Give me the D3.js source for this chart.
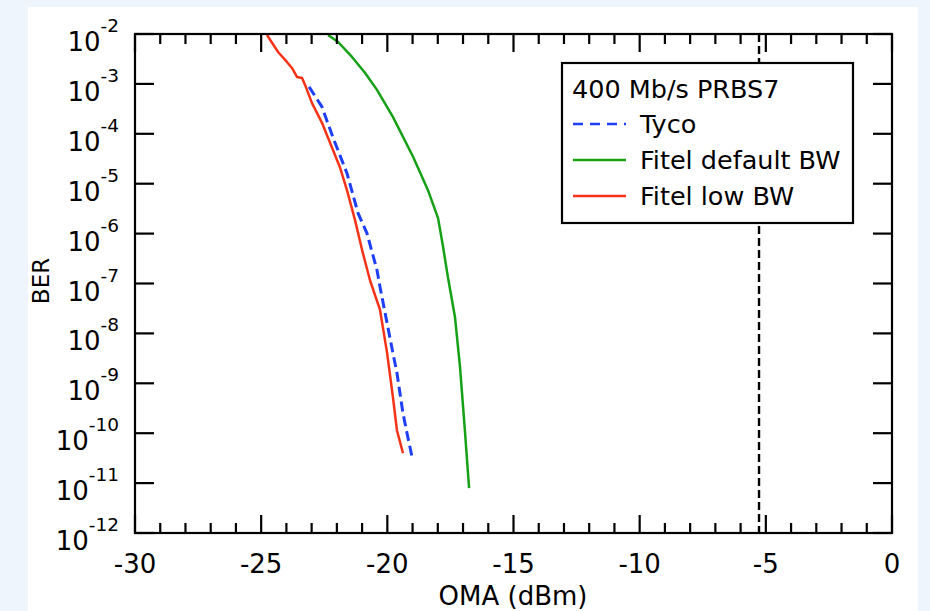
<!DOCTYPE html>
<html>
<head>
<meta charset="utf-8">
<script src="https://cdn.jsdelivr.net/npm/d3@7"></script>
<style>
  html, body { margin: 0; padding: 0; background: #eef5fc; }
  svg { display: block; }
  text { font-family: "DejaVu Sans", Verdana, sans-serif; fill: #000; }
</style>
</head>
<body>
<svg id="chart" width="930" height="611"></svg>
<script>
// ---- data (OMA in dBm, log10 of BER) ----
const lowBW_oma = [-24.77, -24.33, -23.98, -23.78, -23.58, -23.38, -23.26, -22.99, -22.59, -22.35, -21.88, -21.60, -21.28, -21.00, -20.69, -20.29, -20.01, -19.78, -19.62, -19.38];
const lowBW_logBER = [-2.02, -2.36, -2.56, -2.68, -2.86, -2.88, -3.02, -3.38, -3.78, -4.08, -4.67, -5.13, -5.73, -6.33, -6.93, -7.53, -8.39, -9.27, -9.94, -10.40];

const tyco_oma = [-23.10, -22.59, -22.15, -21.60, -21.16, -20.81, -20.41, -20.29, -19.78, -19.62, -19.38, -19.22, -19.02];
const tyco_logBER = [-3.06, -3.46, -4.08, -4.79, -5.59, -5.99, -6.73, -7.07, -8.39, -8.79, -9.60, -10.00, -10.48];

const defBW_oma = [-22.35, -21.95, -21.40, -20.88, -20.41, -19.78, -18.98, -18.39, -17.99, -17.79, -17.60, -17.32, -17.12, -16.92, -16.76];
const defBW_logBER = [-2.02, -2.16, -2.46, -2.78, -3.12, -3.66, -4.46, -5.13, -5.69, -6.27, -6.87, -7.67, -8.67, -9.99, -11.10];

const limitOMA = -5.27;

const xTicks = [-30, -25, -20, -15, -10, -5, 0];
const xMinorTicks = d3.range(-30, 1, 1);
const yExponents = [-2, -3, -4, -5, -6, -7, -8, -9, -10, -11, -12];

const legendTitle = "400 Mb/s PRBS7";
const seriesNames = ["Tyco", "Fitel default BW", "Fitel low BW"];
const seriesColors = ["#1f3ff5", "#16a016", "#f53318"];
const xTitle = "OMA (dBm)";
const yTitle = "BER";

// ---- layout ----
const svg = d3.select("#chart");
svg.append("rect").attr("x", 28).attr("y", 7).attr("width", 890).attr("height", 604).attr("fill", "#fff");

const L = 135, R = 892, T = 34, B = 533;
const x = d3.scaleLinear().domain([-30, 0]).range([L, R]);
const y = d3.scaleLog().domain([1e-12, 1e-2]).range([B, T]);

const plot = svg.append("g");
svg.append("clipPath").attr("id", "clip").append("rect")
  .attr("x", L).attr("y", T).attr("width", R - L).attr("height", B - T);

// ticks
const tickG = svg.append("g").attr("stroke", "#000").attr("stroke-width", 2.2);
xMinorTicks.forEach(v => {
  const major = xTicks.includes(v);
  const len = major ? 18 : 10;
  tickG.append("line").attr("x1", x(v)).attr("x2", x(v)).attr("y1", B).attr("y2", B - len);
  tickG.append("line").attr("x1", x(v)).attr("x2", x(v)).attr("y1", T).attr("y2", T + len);
});
yExponents.forEach(e => {
  tickG.append("line").attr("x1", L).attr("x2", L + 19).attr("y1", y(Math.pow(10, e))).attr("y2", y(Math.pow(10, e)));
  tickG.append("line").attr("x1", R).attr("x2", R - 19).attr("y1", y(Math.pow(10, e))).attr("y2", y(Math.pow(10, e)));
});

// limit line
plot.append("line")
  .attr("x1", x(limitOMA)).attr("x2", x(limitOMA))
  .attr("y1", T).attr("y2", B)
  .attr("stroke", "#000").attr("stroke-width", 2.4).attr("stroke-dasharray", "8,4");

// curves
const line = d3.line().x(d => x(d[0])).y(d => y(Math.pow(10, d[1])));
const series = [
  { oma: tyco_oma, ber: tyco_logBER, color: seriesColors[0], dash: "10,5", w: 3 },
  { oma: defBW_oma, ber: defBW_logBER, color: seriesColors[1], dash: null, w: 2.5 },
  { oma: lowBW_oma, ber: lowBW_logBER, color: seriesColors[2], dash: null, w: 2.5 }
];
series.forEach(s => {
  plot.append("path")
    .attr("clip-path", "url(#clip)")
    .attr("d", line(s.oma.map((v, i) => [v, s.ber[i]])))
    .attr("fill", "none").attr("stroke", s.color).attr("stroke-width", s.w)
    .attr("stroke-linejoin", "round")
    .attr("stroke-dasharray", s.dash);
});

// frame
svg.append("rect").attr("x", L).attr("y", T).attr("width", R - L).attr("height", B - T)
  .attr("fill", "none").attr("stroke", "#000").attr("stroke-width", 2.2);

// x tick labels
xTicks.forEach(v => {
  svg.append("text").attr("x", x(v)).attr("y", B + 40).attr("text-anchor", "middle")
    .attr("font-size", 26).text(v < 0 ? "-" + Math.abs(v) : String(v));
});

// y tick labels
yExponents.forEach(e => {
  const t = svg.append("text").attr("x", 119).attr("y", y(Math.pow(10, e)) + 17)
    .attr("text-anchor", "end").attr("font-size", 26);
  t.append("tspan").text("10");
  t.append("tspan").attr("dy", -19).attr("font-size", 18.5).text("-" + Math.abs(e));
});

// axis titles
svg.append("text").attr("x", 513).attr("y", 605).attr("text-anchor", "middle")
  .attr("font-size", 26).text(xTitle);
svg.append("text").attr("transform", "translate(49,281) rotate(-90)")
  .attr("text-anchor", "middle").attr("font-size", 23).text(yTitle);

// legend
const lg = svg.append("g");
lg.append("rect").attr("x", 562).attr("y", 63).attr("width", 291).attr("height", 160)
  .attr("fill", "#fff").attr("stroke", "#000").attr("stroke-width", 2.2);
lg.append("text").attr("x", 572).attr("y", 98).attr("font-size", 25.5).text(legendTitle);
seriesNames.forEach((n, i) => {
  const yy = 124 + i * 36;
  lg.append("line").attr("x1", 573).attr("x2", 626).attr("y1", yy).attr("y2", yy)
    .attr("stroke", seriesColors[i]).attr("stroke-width", 2.5)
    .attr("stroke-dasharray", i === 0 ? "10,7" : null);
  lg.append("text").attr("x", 640).attr("y", yy + 9).attr("font-size", 25.5).text(n);
});
</script>
</body>
</html>
